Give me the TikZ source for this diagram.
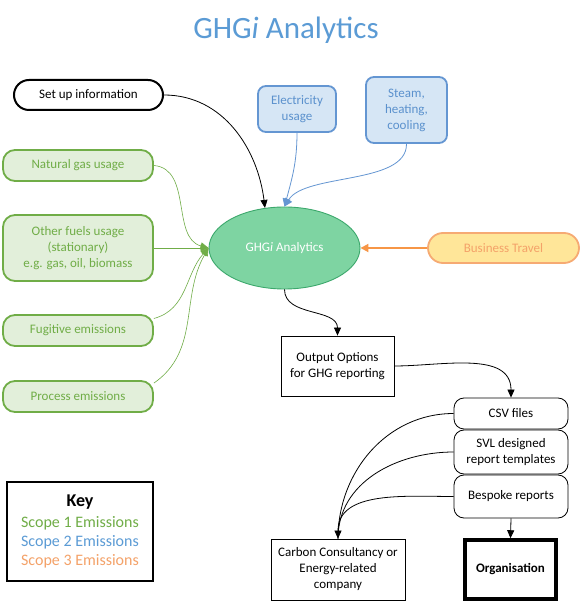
\documentclass[tikz,border=0pt]{standalone}
\usepackage{fontspec}
\setmainfont{Carlito}
\usetikzlibrary{arrows.meta,shapes.geometric}
\definecolor{ttl}{RGB}{91,155,213}
\definecolor{gbd}{RGB}{112,173,71}
\definecolor{gfl}{RGB}{226,239,218}
\definecolor{gtx}{RGB}{112,173,71}
\definecolor{bbd}{RGB}{100,150,210}
\definecolor{bfl}{RGB}{214,230,245}
\definecolor{btx}{RGB}{91,145,205}
\definecolor{efl}{RGB}{126,212,162}
\definecolor{ebd}{RGB}{60,168,108}
\definecolor{obd}{RGB}{246,170,115}
\definecolor{ofl}{RGB}{255,230,153}
\definecolor{otx}{RGB}{244,162,105}
\definecolor{oar}{RGB}{247,150,70}
\tikzset{
  txt/.style={font=\fontsize{13}{16}\selectfont, align=center, inner sep=0pt},
  setupbox/.style={txt, draw=black, line width=2pt, fill=white, rounded corners=15pt},
  greenbox/.style={txt, draw=gbd, line width=1.8pt, fill=gfl, text=gtx, rounded corners=12pt, minimum width=150pt},
  bluebox/.style={txt, draw=bbd, line width=1.8pt, fill=bfl, text=btx, rounded corners=8pt},
  orangebox/.style={txt, draw=obd, line width=1.8pt, fill=ofl, text=otx, rounded corners=15pt},
  plainbox/.style={txt, draw=black, line width=0.8pt, fill=white},
  outbox/.style={txt, draw=black, line width=0.8pt, fill=white, rounded corners=10pt, minimum width=114pt},
  blk/.style={line width=0.8pt, -{Triangle[length=8pt,width=7pt]}},
  grn/.style={draw=gbd, line width=0.6pt, -{Triangle[length=8pt,width=7pt]}},
  blu/.style={draw=bbd, line width=0.8pt, -{Triangle[length=8pt,width=8pt]}},
  org/.style={draw=oar, line width=1.8pt, -{Triangle[length=8pt,width=8pt]}},
}
\begin{document}
\begin{tikzpicture}[x=1pt,y=1pt]
\useasboundingbox (0,0) rectangle (581,603);
\fill[white] (0,0) rectangle (581,603);
% title
\node[inner sep=0pt, text=ttl, font=\fontsize{31}{36}\selectfont] (title) at (286,573) {GHG\textit{i} Analytics};
% inputs
\node[setupbox, minimum width=149pt, minimum height=30pt] (setup) at (88.5,508) {Set up information};
\node[bluebox, minimum width=78pt, minimum height=46pt] (elec) at (297,494) {Electricity\\usage};
\node[bluebox, minimum width=81pt, minimum height=66pt] (steam) at (406.5,493) {Steam,\\heating,\\cooling};
\node[greenbox, minimum height=31pt] (natgas) at (78,437.5) {Natural gas usage};
\node[greenbox, minimum height=66pt] (other) at (78,355) {Other fuels usage\\(stationary)\\e.g. gas, oil, biomass};
\node[greenbox, minimum height=31pt] (fug) at (78,272.5) {Fugitive emissions};
\node[greenbox, minimum height=31pt] (proc) at (78,206.5) {Process emissions};
\node[ellipse, draw=ebd, line width=0.9pt, fill=efl, minimum width=151pt, minimum height=82pt, txt, text=white] (ell) at (284.5,355) {GHG\textit{i} Analytics};
\node[orangebox, minimum width=151pt, minimum height=30pt] (travel) at (503.5,355) {Business Travel};
% outputs
\node[plainbox, minimum width=113pt, minimum height=60pt] (output) at (337.5,237) {Output Options\\for GHG reporting};
\node[outbox, minimum height=31pt] (csv) at (511,189.5) {CSV files};
\node[outbox, minimum height=44pt] (svl) at (511,151) {SVL designed\\report templates};
\node[outbox, minimum height=43pt] (besp) at (511,106.5) {Bespoke reports};
\node[plainbox, minimum width=134pt, minimum height=61pt] (carbon) at (338,33.5) {Carbon Consultancy or\\Energy-related\\company};
\node[plainbox, line width=3.5pt, minimum width=91pt, minimum height=59pt, font=\fontsize{13}{16}\selectfont\bfseries] (orgn) at (510.5,33.5) {Organisation};
% key
\node[draw=black, line width=1.2pt, minimum width=146pt, minimum height=99pt, inner sep=0pt] (key) at (80,71.5) {};
\node[inner sep=0pt, font=\fontsize{18}{20}\selectfont\bfseries] (keyt) at (80,101) {Key};
\node[inner sep=0pt, font=\fontsize{16}{18}\selectfont, text=gtx] (key1) at (80,80) {Scope 1 Emissions};
\node[inner sep=0pt, font=\fontsize{16}{18}\selectfont, text=ttl] (key2) at (80,61) {Scope 2 Emissions};
\node[inner sep=0pt, font=\fontsize{16}{18}\selectfont, text=otx] (key3) at (80,42) {Scope 3 Emissions};
% connectors
\draw[blk] (setup.east) to[out=0,in=97] (ell.116);
\draw[blu] (elec.south) to[out=-90,in=75] (ell.north);
\draw[blu] (steam.south) .. controls (407,418) and (305,430) .. (ell.north);
\draw[grn] (natgas.east) to[out=-5,in=165] (ell.west);
\draw[grn] (other.east) -- (ell.west);
\draw[grn] (fug.9) to[out=15,in=228] (ell.west);
\draw[grn] (proc.10) to[out=35,in=240] (ell.west);
\draw[org] (travel.west) -- (ell.east);
\draw[blk] (ell.south) to[out=-90,in=90] (output.north);
\draw[blk] (output.east) to[out=0,in=90] (csv.north);
\draw[line width=0.8pt] (csv.west) to[out=180,in=90] (carbon.north);
\draw[line width=0.8pt] (svl.west) to[out=180,in=90] (carbon.north);
\draw[blk] (besp.west) to[out=180,in=90] (carbon.north);
\draw[blk] (besp.south) -- (orgn.north);
\end{tikzpicture}
\end{document}
